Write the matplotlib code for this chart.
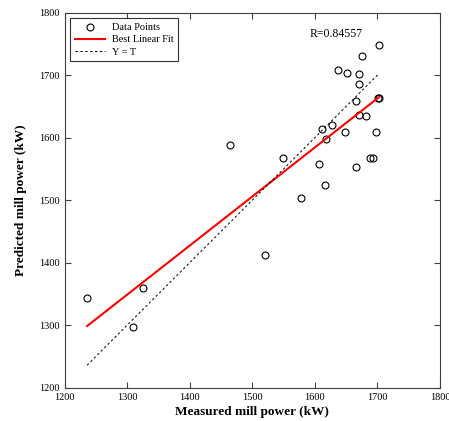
import numpy as np
from matplotlib import pyplot as plt

plt.rcParams['font.family'] = ['Liberation Serif', 'DejaVu Serif']

# measured (T) and predicted (Y) mill power, kW
measured = np.array([1236, 1325, 1310, 1465, 1520, 1549, 1578, 1607, 1611, 1618,
                     1616, 1628, 1637, 1648, 1651, 1665, 1666, 1671, 1671, 1675,
                     1670, 1682, 1688, 1693, 1698, 1701, 1702, 1703])
predicted = np.array([1344, 1359, 1297, 1588, 1413, 1567, 1503, 1558, 1614, 1598,
                      1525, 1621, 1708, 1609, 1703, 1659, 1553, 1702, 1686, 1730,
                      1637, 1634, 1567, 1568, 1609, 1663, 1664, 1749])
r_value = 0.84557

# linear fit
coef = np.polyfit(measured, predicted, 1)
xs = np.array([measured.min(), measured.max()])

fig = plt.figure(figsize=(4.49, 4.21), dpi=100)
ax = fig.add_axes([0.1437, 0.079, 0.8363, 0.891])

ax.plot(measured, predicted, 'o', mfc='none', mec='black', ms=5, mew=0.8,
        label='Data Points')
ax.plot(xs, np.polyval(coef, xs), color='red', lw=1.5, label='Best Linear Fit')
ax.plot(xs, xs, color='black', ls=(0, (2.5, 2.5)), lw=0.7, label='Y = T')

ax.text(1634, 1766, 'R=%.5f' % r_value, ha='center', va='center', fontsize=8.5)

ax.set_xlim(1200, 1800)
ax.set_ylim(1200, 1800)
ax.set_xticks(np.arange(1200, 1801, 100))
ax.set_yticks(np.arange(1200, 1801, 100))
ax.tick_params(direction='in', top=True, right=True, labelsize=7.5, length=4,
               color='#404040')
for s in ax.spines.values():
    s.set_color('#404040')
    s.set_linewidth(0.8)

ax.set_xlabel('Measured mill power (kW)', fontsize=9.5, fontweight='bold', labelpad=3)
ax.set_ylabel('Predicted mill power (kW)', fontsize=9.5, fontweight='bold', labelpad=9)

leg = ax.legend(loc='upper left', fontsize=7.4, frameon=True, fancybox=False,
                handlelength=2.9, handletextpad=0.7, borderaxespad=0.55,
                labelspacing=0.3, borderpad=0.45)
leg.get_frame().set_edgecolor('black')
leg.get_frame().set_linewidth(0.8)

fig.savefig('out.png', dpi=100)
